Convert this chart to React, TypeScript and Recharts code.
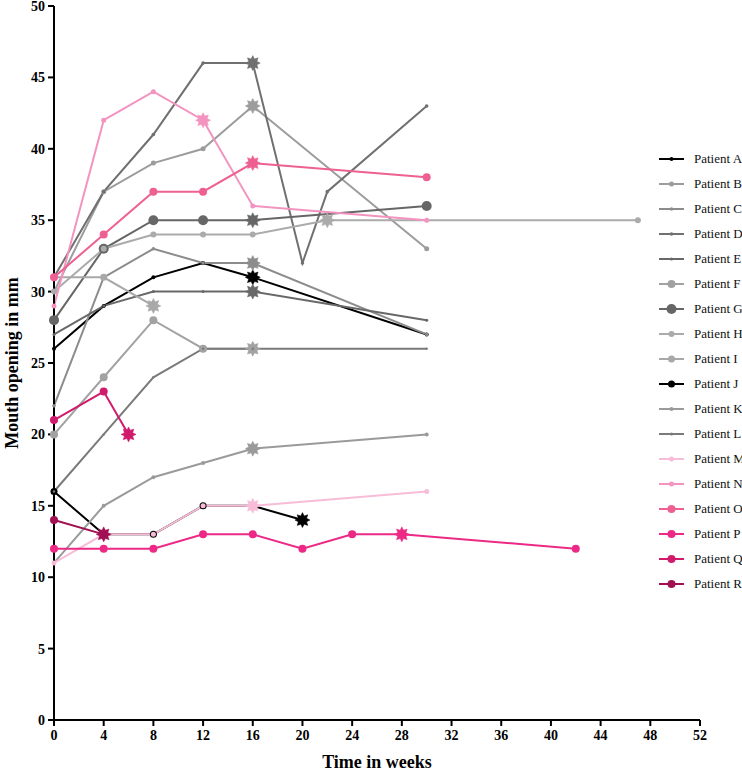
import React from 'react';
import { LineChart, Line, XAxis, YAxis } from 'recharts';

const patientNames = ['Patient A','Patient B','Patient C','Patient D','Patient E','Patient F','Patient G','Patient H','Patient I','Patient J','Patient K','Patient L','Patient M','Patient N','Patient O','Patient P','Patient Q','Patient R'];

const weeksA = [0, 4, 8, 12, 16, 30];
const valuesA = [26, 29, 31, 32, 31, 27];
const weeksB = [0, 4, 8, 12, 16, 30];
const valuesB = [30, 37, 39, 40, 43, 33];
const weeksC = [0, 4, 8, 12, 16, 30];
const valuesC = [22, 31, 33, 32, 32, 27];
const weeksD = [0, 4, 8, 12, 16, 20, 22, 30];
const valuesD = [31, 37, 41, 46, 46, 32, 37, 43];
const weeksE = [0, 4, 8, 12, 16, 30];
const valuesE = [27, 29, 30, 30, 30, 28];
const weeksF = [0, 4, 8, 12, 16];
const valuesF = [20, 24, 28, 26, 26];
const weeksG = [0, 4, 8, 12, 16, 30];
const valuesG = [28, 33, 35, 35, 35, 36];
const weeksH = [0, 4, 8, 12, 16, 22, 47];
const valuesH = [30, 33, 34, 34, 34, 35, 35];
const weeksI = [0, 4, 8];
const valuesI = [31, 31, 29];
const weeksJ = [0, 4, 8, 12, 16, 20];
const valuesJ = [16, 13, 13, 15, 15, 14];
const weeksK = [0, 4, 8, 12, 16, 30];
const valuesK = [11, 15, 17, 18, 19, 20];
const weeksL = [0, 4, 8, 12, 16, 30];
const valuesL = [16, 20, 24, 26, 26, 26];
const weeksM = [0, 4, 8, 12, 16, 30];
const valuesM = [11, 13, 13, 15, 15, 16];
const weeksN = [0, 4, 8, 12, 16, 30];
const valuesN = [29, 42, 44, 42, 36, 35];
const weeksO = [0, 4, 8, 12, 16, 30];
const valuesO = [31, 34, 37, 37, 39, 38];
const weeksP = [0, 4, 8, 12, 16, 20, 24, 28, 42];
const valuesP = [12, 12, 12, 13, 13, 12, 13, 13, 12];
const weeksQ = [0, 4, 6];
const valuesQ = [21, 23, 20];
const weeksR = [0, 4];
const valuesR = [14, 13];

// week at which the star marker is drawn for each patient (null = none)
const starWeeks = [16, 16, 16, 16, 16, 16, 16, 22, 8, 20, 16, null, 16, 12, 16, 28, 6, 4];

const xTicks = [0, 4, 8, 12, 16, 20, 24, 28, 32, 36, 40, 44, 48, 52];
const yTicks = [0, 5, 10, 15, 20, 25, 30, 35, 40, 45, 50];

const allWeeks = [weeksA, weeksB, weeksC, weeksD, weeksE, weeksF, weeksG, weeksH, weeksI, weeksJ, weeksK, weeksL, weeksM, weeksN, weeksO, weeksP, weeksQ, weeksR];
const allValues = [valuesA, valuesB, valuesC, valuesD, valuesE, valuesF, valuesG, valuesH, valuesI, valuesJ, valuesK, valuesL, valuesM, valuesN, valuesO, valuesP, valuesQ, valuesR];

const styles = [
  { color: '#000000', r: 2, w: 2 },
  { color: '#9c9c9c', r: 2.5, w: 2 },
  { color: '#8c8c8c', r: 1.8, w: 2 },
  { color: '#707070', r: 1.8, w: 2 },
  { color: '#686868', r: 1.5, w: 2 },
  { color: '#a2a2a2', r: 4, w: 2 },
  { color: '#666666', r: 5, w: 2 },
  { color: '#ababab', r: 3, w: 2 },
  { color: '#a8a8a8', r: 3.5, w: 2 },
  { color: '#000000', r: 3.5, w: 2 },
  { color: '#9a9a9a', r: 2, w: 2 },
  { color: '#7a7a7a', r: 1.2, w: 2 },
  { color: '#f7bcd8', r: 2.5, w: 2 },
  { color: '#f393c0', r: 2.5, w: 2 },
  { color: '#ee5f92', r: 4, w: 2 },
  { color: '#ec2a86', r: 4, w: 2 },
  { color: '#d01a6c', r: 4, w: 2 },
  { color: '#a01052', r: 4, w: 2 },
];

const seriesData = allWeeks.map((ws, i) => ws.map((x, j) => ({ x, y: allValues[i][j] })));

const SERIF = '"Liberation Serif", "Times New Roman", Times, serif';

function starPoints(cx: number, cy: number, ro: number, ri: number, n: number) {
  const pts: string[] = [];
  for (let k = 0; k < n * 2; k++) {
    const a = (Math.PI * k) / n - Math.PI / 2;
    const rr = k % 2 === 0 ? ro : ri;
    pts.push(`${(cx + rr * Math.cos(a)).toFixed(2)},${(cy + rr * Math.sin(a)).toFixed(2)}`);
  }
  return pts.join(' ');
}

const makeDot = (i: number) => (props: any) => {
  const { cx, cy, payload, index } = props;
  if (cx == null || cy == null) return <g key={`d-${i}-${index}`} />;
  const st = styles[i];
  if (starWeeks[i] !== null && payload && payload.x === starWeeks[i]) {
    return <polygon key={`d-${i}-${index}`} points={starPoints(cx, cy, 7.5, 4.5, 8)} fill={st.color} stroke={st.color} strokeWidth={0.5} />;
  }
  return <circle key={`d-${i}-${index}`} cx={cx} cy={cy} r={st.r} fill={st.color} stroke="none" />;
};

const LegendBox = () => (
  <div style={{ position: 'absolute', left: 657, top: 146, width: 90, fontFamily: SERIF, fontSize: 13, color: '#111' }}>
    {patientNames.map((name, i) => (
      <div key={name} style={{ height: 25, display: 'flex', alignItems: 'center' }}>
        <svg width={32} height={12} style={{ display: 'block' }}>
          <line x1={2} y1={6} x2={27} y2={6} stroke={styles[i].color} strokeWidth={2} />
          <circle cx={14.5} cy={6} r={Math.max(styles[i].r, 1.5)} fill={styles[i].color} />
        </svg>
        <span style={{ marginLeft: 5, whiteSpace: 'nowrap' }}>{name}</span>
      </div>
    ))}
  </div>
);

const YTitle = (props: any) => {
  const vb = props.viewBox || { x: 0, y: 6, width: 54, height: 714 };
  const cx = vb.x + 18;
  const cy = vb.y + vb.height / 2;
  return (
    <text x={cx} y={cy} transform={`rotate(-90, ${cx}, ${cy})`} textAnchor="middle"
      fontFamily={SERIF} fontWeight="bold" fontSize={18} fill="#000">
      Mouth opening in mm
    </text>
  );
};

const XTitle = (props: any) => {
  const vb = props.viewBox || { x: 54, y: 720, width: 646, height: 30 };
  const cx = vb.x + vb.width / 2;
  return (
    <text x={cx} y={768} textAnchor="middle" fontFamily={SERIF} fontWeight="bold" fontSize={18} fill="#000">
      Time in weeks
    </text>
  );
};

const XTick = (props: any) => {
  const { x, y, payload } = props;
  return (
    <text x={x} y={y + 12} textAnchor="middle" fontFamily={SERIF} fontWeight="bold" fontSize={14} fill="#000">
      {payload.value}
    </text>
  );
};

const YTick = (props: any) => {
  const { x, y, payload } = props;
  return (
    <text x={x - 1} y={y + 5} textAnchor="end" fontFamily={SERIF} fontWeight="bold" fontSize={14} fill="#000">
      {payload.value}
    </text>
  );
};

export default function App() {
  return (
    <div style={{ position: 'absolute', left: 0, top: 0, width: 742, height: 771, background: '#fff', overflow: 'hidden' }}>
      <LineChart width={742} height={771} margin={{ top: 6, right: 42, left: 0, bottom: 21 }} style={{ fontFamily: SERIF }}>
        <XAxis
          type="number"
          dataKey="x"
          domain={[0, 52]}
          ticks={xTicks}
          interval={0}
          height={30}
          tickSize={6}
          tick={<XTick />}
          axisLine={{ stroke: '#000', strokeWidth: 2 }}
          tickLine={{ stroke: '#000', strokeWidth: 2 }}
          allowDuplicatedCategory={false}
          label={<XTitle />}
        />
        <YAxis
          type="number"
          dataKey="y"
          domain={[0, 50]}
          ticks={yTicks}
          interval={0}
          width={54}
          tickSize={6}
          tick={<YTick />}
          axisLine={{ stroke: '#000', strokeWidth: 2 }}
          tickLine={{ stroke: '#000', strokeWidth: 2 }}
          label={<YTitle />}
        />
        {seriesData.map((d, i) => (
          <Line
            key={patientNames[i]}
            name={patientNames[i]}
            data={d}
            dataKey="y"
            type="linear"
            stroke={styles[i].color}
            strokeWidth={styles[i].w}
            dot={makeDot(i)}
            activeDot={false}
            isAnimationActive={false}
            legendType="none"
          />
        ))}
      </LineChart>
      <LegendBox />
    </div>
  );
}
